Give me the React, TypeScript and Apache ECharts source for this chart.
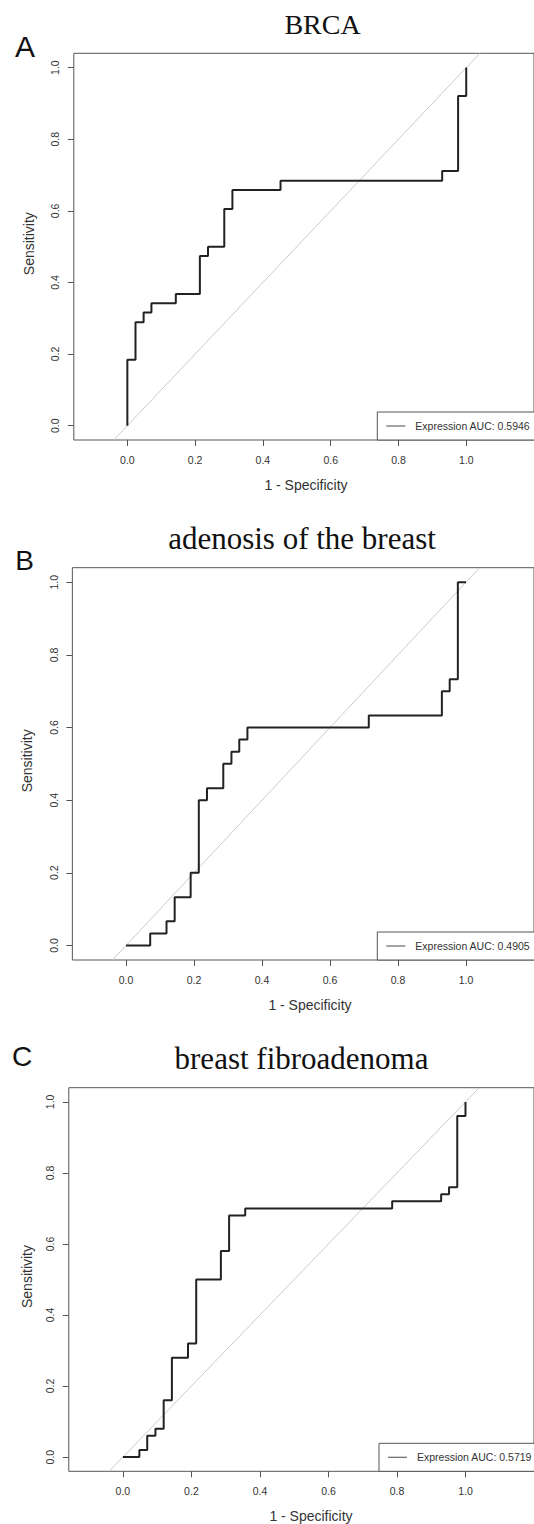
import React, { useEffect, useRef } from "react";
import * as echarts from "echarts";

// ---- data ----
const panelLetters = ["A", "B", "C"];
const panelTitles = ["BRCA", "adenosis of the breast", "breast fibroadenoma"];
const aucLabels = [
  "Expression AUC: 0.5946",
  "Expression AUC: 0.4905",
  "Expression AUC: 0.5719",
];
const tickValues = [0, 0.2, 0.4, 0.6, 0.8, 1.0];
const xAxisTitle = "1 - Specificity";
const yAxisTitle = "Sensitivity";

// ROC vertices (1 - specificity, sensitivity); drawn with a step line
const fprA = [0, 0, 0.024, 0.048, 0.071, 0.143, 0.214, 0.238, 0.286, 0.31, 0.452, 0.929, 0.976, 1];
const tprA = [0, 0.184, 0.289, 0.316, 0.342, 0.368, 0.474, 0.5, 0.605, 0.658, 0.684, 0.711, 0.921, 1];
const fprB = [0, 0.071, 0.119, 0.143, 0.19, 0.214, 0.238, 0.286, 0.31, 0.333, 0.357, 0.714, 0.929, 0.952, 0.976, 1];
const tprB = [0, 0.033, 0.067, 0.133, 0.2, 0.4, 0.433, 0.5, 0.533, 0.567, 0.6, 0.633, 0.7, 0.733, 1, 1];
const fprC = [0, 0.048, 0.071, 0.095, 0.119, 0.143, 0.19, 0.214, 0.286, 0.31, 0.357, 0.786, 0.929, 0.952, 0.976, 1];
const tprC = [0, 0.02, 0.06, 0.08, 0.16, 0.28, 0.32, 0.5, 0.58, 0.68, 0.7, 0.72, 0.74, 0.76, 0.96, 1];
const diagonalEnds = [-0.04, 1.04];

const rocX = [fprA, fprB, fprC];
const rocY = [tprA, tprB, tprC];

// ---- layout (pixels) ----
const X_MIN = -0.158;
const X_MAX = 1.2;
const Y_MIN = -0.04;
const Y_MAX = 1.04;
const layouts = [
  { zeroX: 129.5, unit: 352.4, top: 53.3, bottom: 440, legendLeft: 377.3, titleX: 322.5, titleY: 24, titleSize: 28, letterX: 15, letterY: 46.3, letterSize: 30, xTitleX: 306, yTitleX: 28.5 },
  { zeroX: 128.2, unit: 353.5, top: 567.7, bottom: 960, legendLeft: 377.3, titleX: 302, titleY: 538.8, titleSize: 31, letterX: 15.3, letterY: 560.3, letterSize: 28, xTitleX: 310, yTitleX: 26.5 },
  { zeroX: 125.5, unit: 359, top: 1087.7, bottom: 1471.3, legendLeft: 379, titleX: 301.5, titleY: 1058.8, titleSize: 31, letterX: 12, letterY: 1056.5, letterSize: 28, xTitleX: 311, yTitleX: 27.2 },
];

const SANS = "'Liberation Sans', Arial, Helvetica, sans-serif";
const SERIF = "'Liberation Serif', 'Times New Roman', serif";
const AXIS_COLOR = "#555";
const TEXT_COLOR = "#333";

function buildOption() {
  const grid: any[] = [];
  const xAxis: any[] = [];
  const yAxis: any[] = [];
  const series: any[] = [];
  const legend: any[] = [];
  const graphic: any[] = [];

  layouts.forEach((L, i) => {
    const left = L.zeroX + X_MIN * L.unit;
    const width = (X_MAX - X_MIN) * L.unit;
    grid.push({
      left,
      top: L.top,
      width,
      height: L.bottom - L.top,
      show: true,
      borderColor: AXIS_COLOR,
      borderWidth: 1,
      backgroundColor: "transparent",
    });
    xAxis.push({
      type: "value",
      gridIndex: i,
      min: X_MIN,
      max: X_MAX,
      axisLine: { show: false, onZero: false },
      splitLine: { show: false },
      axisTick: {
        show: true,
        length: 6,
        customValues: tickValues,
        lineStyle: { color: AXIS_COLOR, width: 1 },
      },
      axisLabel: {
        show: true,
        customValues: tickValues,
        margin: 14,
        fontSize: 10.5,
        fontFamily: SANS,
        color: TEXT_COLOR,
        formatter: (v: number) => v.toFixed(1),
      },
    });
    yAxis.push({
      type: "value",
      gridIndex: i,
      min: Y_MIN,
      max: Y_MAX,
      axisLine: { show: false, onZero: false },
      splitLine: { show: false },
      axisTick: {
        show: true,
        length: 6,
        customValues: tickValues,
        lineStyle: { color: AXIS_COLOR, width: 1 },
      },
      axisLabel: {
        show: true,
        customValues: tickValues,
        rotate: 90,
        margin: 13,
        fontSize: 10.5,
        fontFamily: SANS,
        color: TEXT_COLOR,
        formatter: (v: number) => v.toFixed(1),
      },
    });
    series.push({
      type: "line",
      name: "diag" + i,
      xAxisIndex: i,
      yAxisIndex: i,
      data: diagonalEnds.map((v) => [v, v]),
      showSymbol: false,
      symbol: "none",
      silent: true,
      lineStyle: { color: "#cbcbcb", width: 1 },
      z: 1,
    });
    series.push({
      type: "line",
      name: aucLabels[i],
      xAxisIndex: i,
      yAxisIndex: i,
      data: rocX[i].map((x, k) => [x, rocY[i][k]]),
      step: "end",
      showSymbol: false,
      symbol: "none",
      lineStyle: { color: "#222", width: 2 },
      itemStyle: { color: "#222" },
      z: 3,
    });
    legend.push({
      data: [aucLabels[i]],
      left: L.legendLeft,
      top: L.bottom - 28,
      orient: "horizontal",
      selectedMode: false,
      borderColor: AXIS_COLOR,
      borderWidth: 1,
      borderRadius: 0,
      backgroundColor: "#fff",
      padding: [7, 30, 7, 9],
      icon: "rect",
      itemWidth: 19,
      itemHeight: 1.2,
      itemStyle: { color: "#666", borderWidth: 0 },
      textStyle: {
        fontSize: 10.5,
        lineHeight: 14,
        fontFamily: SANS,
        color: TEXT_COLOR,
        padding: [0, 0, 0, 5],
      },
    });
    graphic.push({
      type: "text",
      x: L.titleX,
      y: L.titleY,
      style: {
        text: panelTitles[i],
        font: `${L.titleSize}px ${SERIF}`,
        fill: "#111",
        align: "center",
        verticalAlign: "middle",
      },
    });
    graphic.push({
      type: "text",
      x: L.letterX,
      y: L.letterY,
      style: {
        text: panelLetters[i],
        font: `${L.letterSize}px ${SANS}`,
        fill: "#111",
        align: "left",
        verticalAlign: "middle",
      },
    });
    graphic.push({
      type: "text",
      x: L.xTitleX,
      y: L.bottom + 45,
      style: {
        text: xAxisTitle,
        font: `14px ${SANS}`,
        fill: TEXT_COLOR,
        align: "center",
        verticalAlign: "middle",
      },
    });
    graphic.push({
      type: "text",
      x: L.yTitleX,
      y: (L.top + L.bottom) / 2 - 3,
      rotation: Math.PI / 2,
      style: {
        text: yAxisTitle,
        font: `14px ${SANS}`,
        fill: TEXT_COLOR,
        align: "center",
        verticalAlign: "middle",
      },
    });
  });

  return {
    animation: false,
    backgroundColor: "#fff",
    grid,
    xAxis,
    yAxis,
    series,
    legend,
    graphic,
  };
}

export default function App() {
  const ref = useRef<HTMLDivElement>(null);
  useEffect(() => {
    if (!ref.current) return;
    const chart = echarts.init(ref.current, undefined, { renderer: "svg" });
    chart.setOption(buildOption() as any);
    return () => chart.dispose();
  }, []);
  return (
    <div
      ref={ref}
      style={{ position: "absolute", left: 0, top: 0, width: 534, height: 1524, background: "#fff" }}
    />
  );
}
